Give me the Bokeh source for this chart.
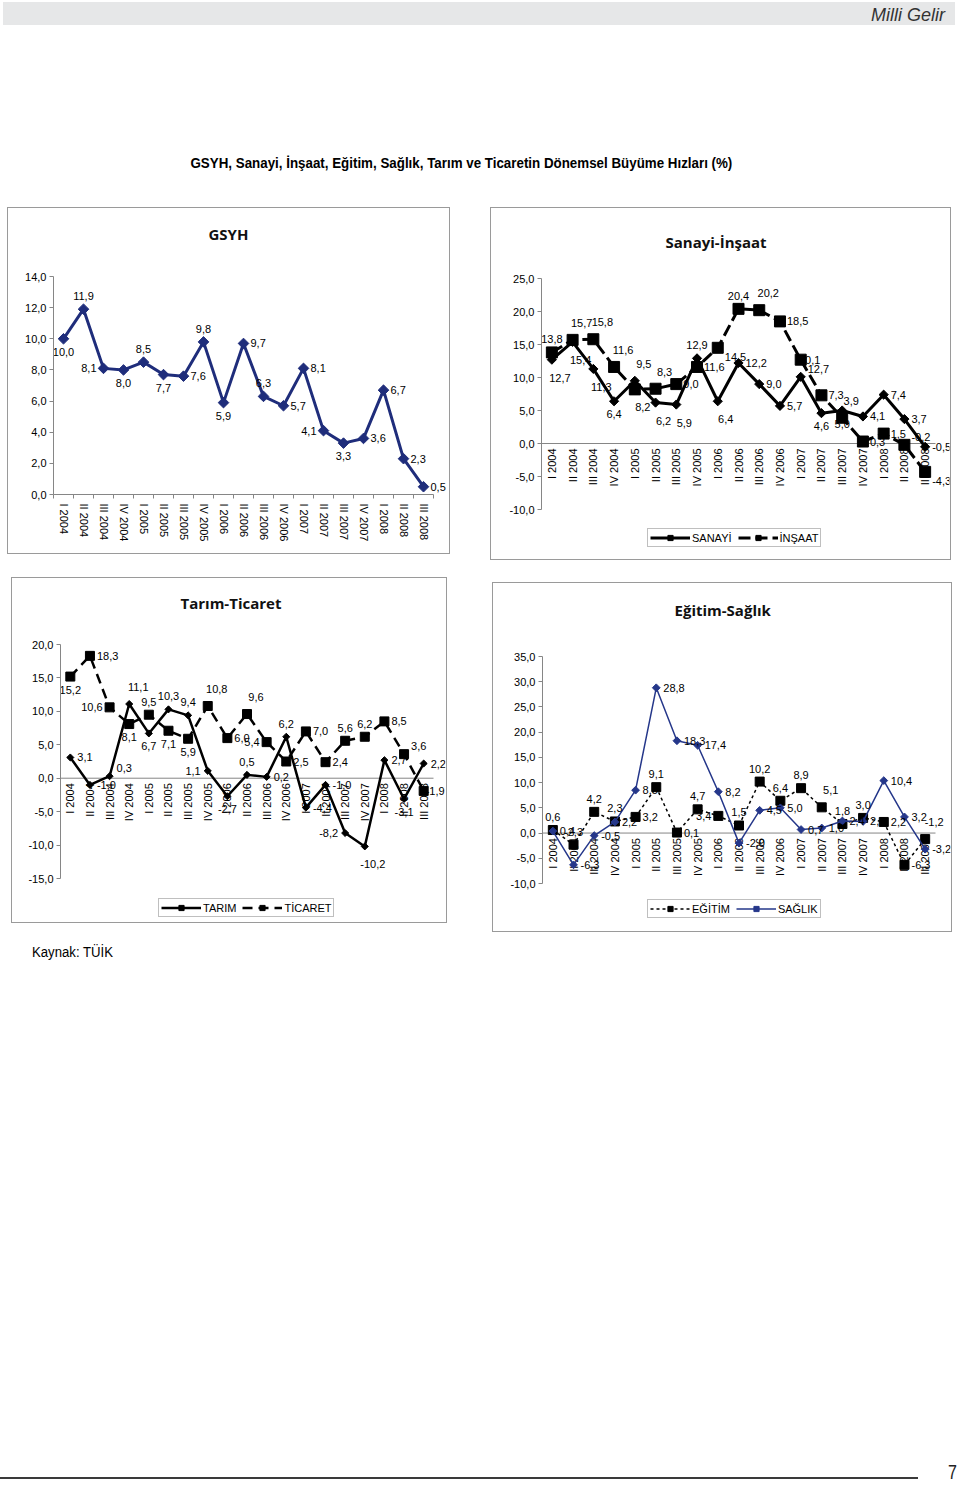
import math
from bokeh.plotting import figure
from bokeh.models import (Range1d, FixedTicker, CustomJSTickFormatter, ColumnDataSource,
                          Legend, LegendItem, Div, Spacer, Title)
from bokeh.layouts import column, row
from bokeh.embed import file_html
from bokeh.resources import INLINE
from bokeh.core.properties import value

# ---------------- data ----------------
quarters = ["I 2004", "II 2004", "III 2004", "IV 2004", "I 2005", "II 2005", "III 2005", "IV 2005",
            "I 2006", "II 2006", "III 2006", "IV 2006", "I 2007", "II 2007", "III 2007", "IV 2007",
            "I 2008", "II 2008", "III 2008"]

gsyh = [10.0, 11.9, 8.1, 8.0, 8.5, 7.7, 7.6, 9.8, 5.9, 9.7, 6.3, 5.7, 8.1, 4.1, 3.3, 3.6, 6.7, 2.3, 0.5]
sanayi = [12.7, 15.4, 11.3, 6.4, 9.5, 6.2, 5.9, 12.9, 6.4, 12.2, 9.0, 5.7, 10.1, 4.6, 5.0, 4.1, 7.4, 3.7, -0.5]
insaat = [13.8, 15.7, 15.8, 11.6, 8.2, 8.3, 9.0, 11.6, 14.5, 20.4, 20.2, 18.5, 12.7, 7.3, 3.9, 0.3, 1.5, -0.2, -4.3]
tarim = [3.1, -1.0, 0.3, 11.1, 6.7, 10.3, 9.4, 1.1, -2.7, 0.5, 0.2, 6.2, -4.4, -1.0, -8.2, -10.2, 2.7, -3.1, 2.2]
ticaret = [15.2, 18.3, 10.6, 8.1, 9.5, 7.1, 5.9, 10.8, 6.0, 9.6, 5.4, 2.5, 7.0, 2.4, 5.6, 6.2, 8.5, 3.6, -1.9]
egitim = [0.6, -2.3, 4.2, 2.3, 3.2, 9.1, 0.1, 4.7, 3.4, 1.5, 10.2, 6.4, 8.9, 5.1, 1.8, 3.0, 2.2, -6.3, -1.2]
saglik = [0.4, -6.3, -0.5, 2.2, 8.5, 28.8, 18.3, 17.4, 8.2, -2.0, 4.5, 5.0, 0.7, 1.0, 2.4, 2.3, 10.4, 3.2, -3.2]

gsyh_ticks = [0, 2, 4, 6, 8, 10, 12, 14]
sanayi_ticks = [-10, -5, 0, 5, 10, 15, 20, 25]
tarim_ticks = [-15, -10, -5, 0, 5, 10, 15, 20]
egitim_ticks = [-10, -5, 0, 5, 10, 15, 20, 25, 30, 35]

# data-label placement (style only)
gsyh_lbl = list("balbabrabrarrlbrrrr")
sanayi_lbl = list("BBBbABBaBrrrAbbrrrr")
insaat_lbl = list("aAAABArrSaArSrArrRS")
tarim_lbl = list("rrRAbaalbararrlBrbr")
ticaret_lbl = list("brlbabbArAlrrraarRq")
egitim_lbl = list("aaaararalaaaaAaarrA")
saglik_lbl = list("rrrrrrrrrrrrrrrrrrr")

FONT = "Liberation Sans"
AX = "#868686"
NAVY = "#1f2d7b"
N = len(quarters)
xs = [i + 0.5 for i in range(N)]

OFF = {"r": (7, 0, "left"), "l": (-7, 0, "right"),
       "a": (0, -13, "center"), "b": (0, 13, "center"),
       "A": (9, -17, "center"), "B": (8, 18, "center"),
       "R": (7, -8, "left"), "S": (7, 9, "left"), "q": (2, 0, "left")}


def fmt(v):
    return f"{v:.1f}".replace(".", ",")


def add_labels(p, vals, pos):
    for al in ("left", "right", "center"):
        idx = [i for i, c in enumerate(pos) if OFF[c][2] == al]
        if not idx:
            continue
        src = ColumnDataSource(dict(
            x=[xs[i] for i in idx], y=[vals[i] for i in idx],
            t=[fmt(vals[i]) for i in idx],
            dx=[OFF[pos[i]][0] for i in idx], dy=[OFF[pos[i]][1] for i in idx]))
        p.text(x="x", y="y", text="t", x_offset="dx", y_offset="dy", source=src,
               text_align=al, text_baseline="middle", text_font=value(FONT),
               text_font_size="11px", text_color="#000000")


def make_panel(title, w, h, ylo, yhi, yticks, ml, mr, mt, mb, toff, s_sp, zero_axis):
    # let the frame run to the right edge so that end labels are not clipped
    ppc = (w - ml - mr) / N
    x_end = N + (mr - 1) / ppc
    if zero_axis:
        ppu = (h - mt - mb) / (yhi - ylo)
        y_start = ylo - mb / ppu
        mb_used = 0
    else:
        y_start = ylo
        mb_used = mb
    p = figure(width=w, height=h, x_range=Range1d(0, x_end), y_range=Range1d(y_start, yhi),
               output_backend="svg", toolbar_location=None,
               x_axis_location=(None if zero_axis else "below"),
               min_border_left=ml, min_border_right=1, min_border_top=mt, min_border_bottom=mb_used)
    p.background_fill_color = "white"
    p.border_fill_color = "white"
    p.outline_line_color = None
    p.xgrid.visible = False
    p.ygrid.visible = False
    p.add_layout(Title(text=" ", text_font_size="10px", standoff=s_sp), "above")
    p.add_layout(Title(text=title, align="left", offset=toff, standoff=10, text_font="Open Sans",
                       text_font_style="bold", text_font_size="15px", text_color="#111111"), "above")

    ya = p.yaxis[0]
    ya.bounds = (ylo, yhi)
    ya.ticker = FixedTicker(ticks=yticks)
    ya.formatter = CustomJSTickFormatter(code="return tick.toFixed(1).replace('.', ',');")
    ya.major_tick_out = 4
    ya.major_tick_in = 0
    ya.minor_tick_out = 0
    ya.minor_tick_in = 0
    ya.axis_line_color = AX
    ya.major_tick_line_color = AX
    ya.major_label_text_font = FONT
    ya.major_label_text_font_size = "11px"
    ya.major_label_text_color = "#000000"
    ya.major_label_standoff = 3

    if zero_axis:
        p.segment(x0=[0], y0=[0], x1=[N], y1=[0], line_color=AX, line_width=1)
        p.text(x=xs, y=[0] * N, text=quarters, angle=math.pi / 2, y_offset=5,
               text_align="right", text_baseline="middle", text_font=value(FONT),
               text_font_size="11px", text_color="#000000")
    else:
        xa = p.xaxis[0]
        xa.bounds = (0, N)
        xa.ticker = FixedTicker(ticks=xs, minor_ticks=list(range(N + 1)))
        xa.formatter = CustomJSTickFormatter(args=dict(labels=quarters),
                                             code="return labels[Math.floor(tick)];")
        xa.major_tick_out = 0
        xa.major_tick_in = 0
        xa.minor_tick_out = 4
        xa.minor_tick_in = 0
        xa.axis_line_color = AX
        xa.minor_tick_line_color = AX
        xa.major_label_orientation = "vertical"
        xa.major_label_standoff = 5
        xa.major_label_text_font = FONT
        xa.major_label_text_font_size = "11px"
        xa.major_label_text_color = "#000000"
    return p


def series(p, vals, color, marker, msize, lw, dash="solid"):
    ln = p.line(xs, vals, line_color=color, line_width=lw, line_dash=dash, line_join="round")
    sc = p.scatter(xs, vals, marker="square", size=msize, angle=(math.pi / 4 if marker == "diamond" else 0),
                   fill_color=color, line_color=color)
    return [ln, sc]


def add_legend(p, items, loc):
    lg = Legend(items=[LegendItem(label=l, renderers=r) for l, r in items],
                orientation="horizontal", location=loc)
    lg.border_line_color = "#7f7f7f"
    lg.border_line_width = 1
    lg.background_fill_color = "white"
    lg.background_fill_alpha = 1.0
    lg.padding = 2
    lg.spacing = 6
    lg.margin = 0
    lg.glyph_width = 40
    lg.glyph_height = 13
    lg.label_height = 13
    lg.label_standoff = 2
    lg.label_text_font = FONT
    lg.label_text_font_size = "11px"
    lg.label_text_color = "#000000"
    p.add_layout(lg)


def boxed(p):
    return column(p, styles={"border": "1px solid #9a9a9a"})


# ---------------- GSYH ----------------
p1 = make_panel("GSYH", 441, 345, 0, 14, gsyh_ticks, 45, 16, 68, 59, 155, 15, False)
series(p1, gsyh, NAVY, "diamond", 7.5, 3)
add_labels(p1, gsyh, gsyh_lbl)

# ---------------- Sanayi-İnşaat ----------------
p2 = make_panel("Sanayi-İnşaat", 459, 351, -10, 25, sanayi_ticks, 50, 15, 70, 50, 124, 9, True)
r_san = series(p2, sanayi, "#000000", "diamond", 6.5, 3)
r_ins = series(p2, insaat, "#000000", "square", 11, 3, "12 5")
add_labels(p2, sanayi, sanayi_lbl)
add_labels(p2, insaat, insaat_lbl)
add_legend(p2, [("SANAYİ", r_san), ("İNŞAAT", r_ins)], (106, 12))

# ---------------- Tarım-Ticaret ----------------
p3 = make_panel("Tarım-Ticaret", 434, 344, -15, 20, tarim_ticks, 48, 13, 66, 44, 120, 14, True)
r_tar = series(p3, tarim, "#000000", "diamond", 5, 2.5)
r_tic = series(p3, ticaret, "#000000", "square", 9, 2.5, "10 6")
add_labels(p3, tarim, tarim_lbl)
add_labels(p3, ticaret, ticaret_lbl)
add_legend(p3, [("TARIM", r_tar), ("TİCARET", r_tic)], (98, 5))

# ---------------- Eğitim-Sağlık ----------------
p4 = make_panel("Eğitim-Sağlık", 458, 348, -10, 35, egitim_ticks, 49, 16, 73, 48, 132, 19, True)
r_egi = series(p4, egitim, "#000000", "square", 9, 1.5, "3 3")
r_sag = series(p4, saglik, "#25378a", "diamond", 5.5, 1.5)
add_labels(p4, egitim, egitim_lbl)
add_labels(p4, saglik, saglik_lbl)
add_legend(p4, [("EĞİTİM", r_egi), ("SAĞLIK", r_sag)], (105, 13))

# ---------------- page texts ----------------
header = Div(width=950, height=15, text=(
    '<div style="margin:-3px 0 0 -2px;width:952px;height:23px;background:#e6e7e8;'
    'font-family:\'Liberation Sans\';font-style:italic;font-size:18px;line-height:26px;'
    'text-align:right;color:#333;"><span style="padding-right:10px">Milli Gelir</span></div>'))

main_title = Div(width=912, height=20, text=(
    '<div style="width:912px;text-align:center;font-family:\'Liberation Sans\';font-weight:bold;'
    'font-size:15px;line-height:20px;color:#000">'
    '<span style="display:inline-block;transform:scaleX(0.89);white-space:nowrap">'
    'GSYH, Sanayi, İnşaat, Eğitim, Sağlık, Tarım ve Ticaretin Dönemsel Büyüme Hızları (%)</span></div>'))

source = Div(width=300, height=16, text=(
    '<div style="padding-left:27px;font-family:\'Liberation Sans\';font-size:14px;'
    'line-height:16px;color:#000"><span style="display:inline-block;transform:scaleX(0.94);'
    'transform-origin:left">Kaynak: TÜİK</span></div>'))

footer = Div(width=950, height=20, text=(
    '<div style="position:relative;width:950px;height:20px;">'
    '<div style="position:absolute;left:-5px;top:19px;width:918px;height:2px;background:#3a3a3a"></div>'
    '<div style="position:absolute;right:-3px;top:4px;font-family:\'Liberation Sans\';'
    'font-size:20px;line-height:20px;color:#222;transform:scaleX(0.8)">7</div></div>'))

row1 = row(Spacer(width=7, height=10), boxed(p1), Spacer(width=40, height=10), boxed(p2))
row2 = row(Spacer(width=11, height=10), boxed(p3), Spacer(width=45, height=10),
           column(Spacer(width=460, height=5), boxed(p4)))

layout = column(
    header,
    Spacer(width=10, height=123),
    main_title,
    Spacer(width=10, height=29),
    row1,
    Spacer(width=10, height=17),
    row2,
    Spacer(width=10, height=7),
    source,
    Spacer(width=10, height=488),
    footer,
)

open("out.html", "w").write(file_html(layout, INLINE, title="Milli Gelir"))
